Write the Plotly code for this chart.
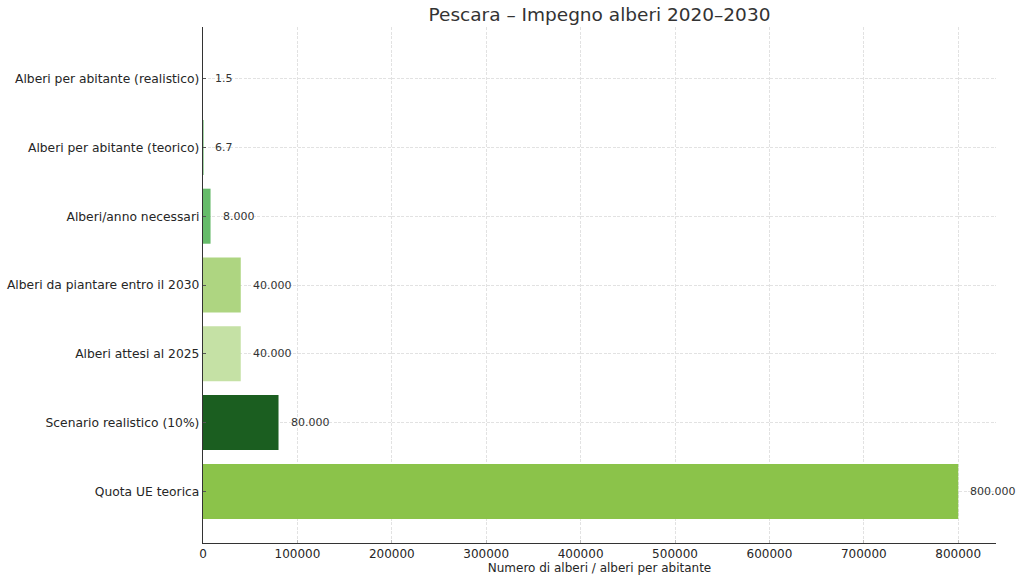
import plotly.graph_objects as go

# Dati (dal basso verso l'alto, come nel grafico)
categorie = [
    "Quota UE teorica",
    "Scenario realistico (10%)",
    "Alberi attesi al 2025",
    "Alberi da piantare entro il 2030",
    "Alberi/anno necessari",
    "Alberi per abitante (teorico)",
    "Alberi per abitante (realistico)",
]
valori = [800000, 80000, 40000, 40000, 8000, 6.7, 1.5]
colori = ["#8bc34a", "#1b5e20", "#c5e1a5", "#aed581", "#66bb6a", "#a5d6a7", "#c8e6c9"]
tick_x = [0, 100000, 200000, 300000, 400000, 500000, 600000, 700000, 800000]


def formatta(v):
    # separatore delle migliaia all'italiana
    if v >= 1000:
        return f"{v:,.0f}".replace(",", ".")
    return f"{v}"


fig = go.Figure()
fig.add_trace(go.Bar(
    x=valori,
    y=categorie,
    orientation="h",
    width=0.8,
    marker=dict(color=colori, line=dict(width=0)),
    hoverinfo="x+y",
))

for cat, v in zip(categorie, valori):
    fig.add_annotation(
        x=v, y=cat, text=formatta(v),
        xanchor="left", yanchor="middle", xshift=10,
        showarrow=False,
        font=dict(size=11, color="#333333"),
    )

fig.update_layout(
    width=1024, height=581,
    paper_bgcolor="white", plot_bgcolor="white",
    font=dict(family="DejaVu Sans", color="#262626"),
    title=dict(
        text="Pescara – Impegno alberi 2020–2030",
        x=(203 + 996) / 2 / 1024, xanchor="center",
        yref="container", y=1 - 15 / 581, yanchor="middle",
        font=dict(size=18.5, color="#333333"),
    ),
    margin=dict(l=203, r=28, t=27, b=38),
    showlegend=False,
    bargap=0.2,
)

fig.update_xaxes(
    range=[0, 840000],
    tickvals=tick_x,
    ticktext=[str(t) for t in tick_x],
    tickfont=dict(size=12, color="#262626"),
    ticks="inside", ticklen=3, tickcolor="#bbbbbb",
    showline=True, linecolor="#333333", linewidth=1.3,
    showgrid=True, gridcolor="#e2e2e2", griddash="3px,1.5px", gridwidth=0.8,
    zeroline=False,
    automargin=False,
    layer="above traces",
    ticklabelstandoff=-1,
    title=dict(text="Numero di alberi / alberi per abitante", font=dict(size=12, color="#262626"), standoff=0),
)
fig.update_yaxes(
    range=[-0.75, 6.75],
    tickfont=dict(size=12.3, color="#262626"),
    ticks="inside", ticklen=3, tickcolor="#555555",
    showline=True, linecolor="#333333", linewidth=1.3,
    showgrid=True, gridcolor="#e2e2e2", griddash="3px,1.5px", gridwidth=0.8,
    zeroline=False,
    automargin=False,
    layer="above traces",
    ticklabelstandoff=0,
)

# la pagina ha un margine di 8px sul body: lo azzero
fig.write_html(
    "out.html",
    config={"displayModeBar": False},
    post_script="document.body.style.margin = '0';",
)
